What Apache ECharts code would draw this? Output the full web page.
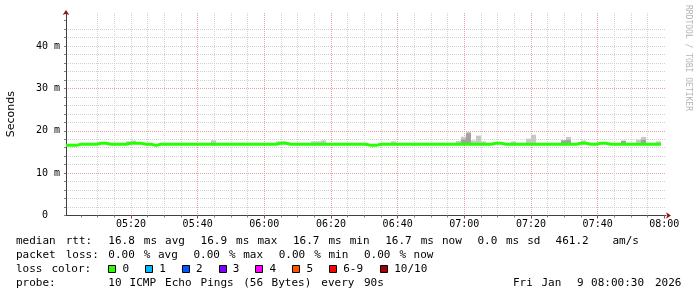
<!DOCTYPE html>
<html><head><meta charset="utf-8">
<script src="https://cdn.jsdelivr.net/npm/echarts@6/dist/echarts.min.js"></script>
<style>html,body{margin:0;padding:0;background:#fff}#c{width:697px;height:297px}</style>
</head><body><div id="c"></div>
<script>
// ---- time base: minutes after 05:00, window 05:00:30 .. 08:00:30, one sample per 90 s
const windowStart = 0.5;
const windowEnd = 180.5;
const stepMinutes = 1.5;

// median RTT per 90 s sample (ms)
const median = [
  16.56,16.56,16.8,16.8,16.8,16.8,17.04,17.04,16.8,16.8,
  16.8,16.8,17.04,17.04,17.04,16.8,16.8,16.56,16.8,16.8,
  16.8,16.8,16.8,16.8,16.8,16.8,16.8,16.8,16.8,16.8,
  16.8,16.8,16.8,16.8,16.8,16.8,16.8,16.8,16.8,16.8,
  16.8,16.8,17.04,17.04,16.8,16.8,16.8,16.8,16.8,16.8,
  16.8,16.8,16.8,16.8,16.8,16.8,16.8,16.8,16.8,16.8,
  16.56,16.56,16.8,16.8,16.8,16.8,16.8,16.8,16.8,16.8,
  16.8,16.8,16.8,16.8,16.8,16.8,16.8,16.8,16.8,16.8,
  16.8,16.8,16.8,16.8,16.8,17.04,17.04,16.8,16.8,16.8,
  16.8,16.8,16.8,16.8,16.8,16.8,16.8,16.8,16.8,16.8,
  16.8,16.8,17.04,17.04,16.8,16.8,17.04,17.04,16.8,16.8,
  16.8,16.8,16.8,16.8,16.8,16.8,16.8,16.8,16.8
];
// highest ping of each sample (outer smoke), null = hidden under the median line
const smokeHigh = [
  null,null,null,null,null,null,null,null,null,null,
  null,null,17.5,17.7,null,null,null,null,null,null,
  null,null,null,null,null,null,null,null,null,17.75,
  null,null,null,null,null,null,null,null,null,null,
  null,null,17.5,17.5,null,null,null,null,null,17.5,
  17.5,17.75,null,null,null,null,null,null,null,null,
  null,null,null,null,null,17.5,null,null,null,null,
  null,null,null,null,null,null,null,null,17.6,18.6,
  19.75,17.7,18.85,17.5,null,null,null,null,null,17.5,
  null,null,18.15,19.05,null,null,null,null,null,17.85,
  18.55,null,null,17.7,null,null,null,null,null,null,
  null,17.7,null,null,17.9,18.55,null,null,17.5
];
// inner (denser) smoke top
const smokeDark = [
  null,null,null,null,null,null,null,null,null,null,
  null,null,null,null,null,null,null,null,null,null,
  null,null,null,null,null,null,null,null,null,null,
  null,null,null,null,null,null,null,null,null,null,
  null,null,null,null,null,null,null,null,null,null,
  null,null,null,null,null,null,null,null,null,null,
  null,null,null,null,null,null,null,null,null,null,
  null,null,null,null,null,null,null,null,null,17.95,
  19.4,null,null,null,null,null,null,null,null,null,
  null,null,null,null,null,null,null,null,null,17.7,
  17.85,null,null,null,null,null,null,null,null,null,
  null,17.6,null,null,null,17.85,null,null,null
];

const xMinorTicks = [5,10,15,20,25,30,35,40,45,50,55,60,65,70,75,80,85,90,95,100,105,110,115,120,125,130,135,140,145,150,155,160,165,170,175,180];
const xMajorTicks = [20,40,60,80,100,120,140,160,180];
const yMinorTicks = [0,2,4,6,8,10,12,14,16,18,20,22,24,26,28,30,32,34,36,38,40,42,44,46];
const yMajorTicks = [0,10,20,30,40];
const yMax = 47.8;

const statLines = [
  'median rtt:  16.8 ms avg  16.9 ms max  16.7 ms min  16.7 ms now  0.0 ms sd  461.2   am/s',
  'packet loss: 0.00 % avg  0.00 % max  0.00 % min  0.00 % now'
];
const lossTitle = 'loss color:';
const lossLabels = ['0','1','2','3','4','5','6-9','10/10'];
const lossColors = ['#26ff00','#00b8ff','#0059ff','#7e00ff','#ff00ff','#ff5500','#ff0000','#a00000'];
const probeLine = 'probe:       10 ICMP Echo Pings (56 Bytes) every 90s';
const dateText = 'Fri Jan  9 08:00:30 2026';
const watermark = 'RRDTOOL / TOBI OETIKER';
const yTitle = 'Seconds';

// ---- build
const times = median.map((_, i) => windowStart + i * stepMinutes);
const lineData = median.map((v, i) => [times[i], v]);
lineData.push([times[times.length - 1] + stepMinutes, median[median.length - 1]]);
const lightData = [], darkData = [];
smokeHigh.forEach((v, i) => { if (v != null) lightData.push([times[i], median[i], v]); });
smokeDark.forEach((v, i) => { if (v != null) darkData.push([times[i], median[i], v]); });

const mono = 'DejaVu Sans Mono';
const pad = n => (n < 10 ? '0' : '') + n;
const fmtTime = v => { const m = Math.round(v); return pad(5 + Math.floor(m / 60)) + ':' + pad(m % 60); };
const fmtY = v => (v === 0 ? '0  ' : v + ' m');

function smokeRender(color) {
  return function (params, api) {
    const t = api.value(0);
    const p1 = api.coord([t, api.value(2)]);
    const p2 = api.coord([t + stepMinutes, api.value(1)]);
    return { type: 'rect', shape: { x: p1[0], y: p1[1], width: p2[0] - p1[0], height: p2[1] - p1[1] }, style: { fill: color } };
  };
}

const minorGrid = { color: '#d2d2d2', width: 1, type: [1, 1] };
const majorGrid = { color: '#eea0a0', width: 1, type: [1, 1] };

// legend text graphics
const colW = 7.1, legX = 16, rowY = [241, 255, 269, 283];
const graphics = [];
function addTokens(line, row, startCol) {
  const re = /\S+/g; let m;
  while ((m = re.exec(line))) {
    graphics.push({ type: 'text', x: legX + (startCol + m.index) * colW, y: rowY[row],
      style: { text: m[0], font: '11px "' + mono + '"', fill: '#000', align: 'left', verticalAlign: 'middle' } });
  }
}
addTokens(statLines[0], 0, 0);
addTokens(statLines[1], 1, 0);
addTokens(lossTitle, 2, 0);
addTokens(probeLine, 3, 0);
addTokens(dateText, 3, 70);
let bx = legX + 13 * colW;
lossLabels.forEach((lab, i) => {
  graphics.push({ type: 'rect', shape: { x: Math.round(bx) + 0.5, y: rowY[2] - 3.5, width: 7, height: 7 },
    style: { fill: lossColors[i], stroke: '#000', lineWidth: 1 } });
  const tx = bx + 14.1;
  graphics.push({ type: 'text', x: tx, y: rowY[2], style: { text: lab, font: '11px "' + mono + '"', fill: '#000', align: 'left', verticalAlign: 'middle' } });
  bx = tx + lab.length * colW + 15.6;
});
graphics.push({ type: 'text', x: 688, y: 5, rotation: -Math.PI / 2,
  style: { text: watermark, font: '8px "' + mono + '"', fill: '#b4b4b4', align: 'left', verticalAlign: 'middle' } });

const chart = echarts.init(document.getElementById('c'), null, { renderer: 'canvas', width: 697, height: 297 });
chart.setOption({
  animation: false,
  backgroundColor: '#ffffff',
  grid: { left: 66, top: 13, width: 600, height: 202.5, containLabel: false, outerBoundsMode: 'none' },
  xAxis: [
    { type: 'value', position: 'bottom', min: windowStart, max: windowEnd,
      axisLine: { show: true, onZero: false, lineStyle: { color: '#404040', width: 1 } },
      axisTick: { show: true, length: 2, customValues: xMinorTicks, lineStyle: { color: '#808080' } },
      axisLabel: { show: false },
      splitLine: { show: true, showMinLine: false, showMaxLine: false, lineStyle: minorGrid } },
    { type: 'value', position: 'bottom', min: windowStart, max: windowEnd,
      axisLine: { show: false, onZero: false },
      axisTick: { show: true, length: 3, customValues: xMajorTicks, lineStyle: { color: '#a04040' } },
      axisLabel: { show: true, customValues: xMajorTicks, formatter: fmtTime, fontFamily: mono, fontSize: 10, color: '#000', margin: 4 },
      splitLine: { show: true, showMinLine: false, showMaxLine: false, lineStyle: majorGrid } },
    { type: 'value', position: 'bottom', min: windowStart, max: windowEnd,
      axisLine: { show: true, onZero: false, symbol: ['none', 'arrow'], symbolSize: [5, 5], symbolOffset: [0, 5], lineStyle: { color: '#8e1010', width: 0.001 } },
      axisTick: { show: false }, axisLabel: { show: false }, splitLine: { show: false } }
  ],
  yAxis: [
    { type: 'value', position: 'left', min: 0, max: yMax, interval: 2,
      axisLine: { show: true, onZero: false, lineStyle: { color: '#404040', width: 1 } },
      axisTick: { show: true, length: 2, customValues: yMinorTicks, lineStyle: { color: '#808080' } },
      axisLabel: { show: false },
      splitLine: { show: true, showMinLine: false, showMaxLine: false, lineStyle: minorGrid } },
    { type: 'value', position: 'left', min: 0, max: yMax, interval: 10,
      name: yTitle, nameLocation: 'middle', nameGap: 49, nameRotate: 90, nameMoveOverlap: false,
      nameTextStyle: { fontFamily: 'DejaVu Sans', fontSize: 11, color: '#000' },
      axisLine: { show: false, onZero: false },
      axisTick: { show: false, customValues: yMajorTicks },
      axisLabel: { show: true, customValues: yMajorTicks, formatter: fmtY, fontFamily: mono, fontSize: 10, color: '#000', margin: 6 },
      splitLine: { show: true, showMinLine: false, showMaxLine: false, lineStyle: majorGrid } },
    { type: 'value', position: 'left', min: 0, max: yMax,
      axisLine: { show: true, onZero: false, symbol: ['none', 'arrow'], symbolSize: [5, 5], symbolOffset: [0, 3], lineStyle: { color: '#8e1010', width: 0.001 } },
      axisTick: { show: false }, axisLabel: { show: false }, splitLine: { show: false } }
  ],
  series: [
    { type: 'custom', name: 'smoke', xAxisIndex: 0, yAxisIndex: 0, renderItem: smokeRender('#c8c8c8'),
      encode: { x: 0, y: [1, 2] }, data: lightData, z: 2, silent: true },
    { type: 'custom', name: 'smoke-dense', xAxisIndex: 0, yAxisIndex: 0, renderItem: smokeRender('#a2a2a2'),
      encode: { x: 0, y: [1, 2] }, data: darkData, z: 3, silent: true },
    { type: 'line', name: 'median rtt', xAxisIndex: 0, yAxisIndex: 0, step: 'end', data: lineData,
      symbol: 'none', lineStyle: { color: '#26ff00', width: 3 }, z: 4, silent: true }
  ],
  graphic: graphics
});
</script>
</body></html>
